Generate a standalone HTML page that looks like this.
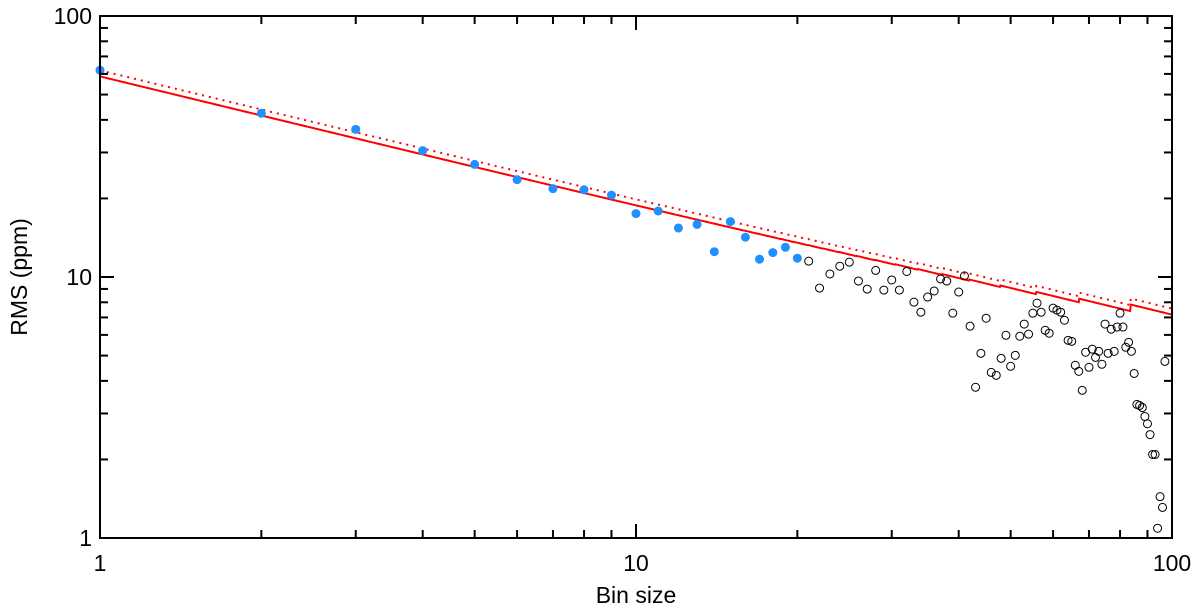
<!DOCTYPE html>
<html><head><meta charset="utf-8"><style>
html,body{margin:0;padding:0;background:#fff;}
svg text{font-family:"Liberation Sans","DejaVu Sans",sans-serif;}
</style></head><body>
<svg id="chart" width="1200" height="609" viewBox="0 0 1200 609" xmlns="http://www.w3.org/2000/svg">
<g id="grid"></g>
</svg>
<script>
const binsIn = [1,2,3,4,5,6,7,8,9,10,11,12,13,14,15,16,17,18,19,20];
const rmsIn = [62,42.4,36.8,30.5,27.0,23.6,21.8,21.6,20.6,17.5,17.9,15.4,15.9,12.5,16.3,14.2,11.7,12.4,13.0,11.8];
const rmsOut = [11.5,9.07,10.27,11.0,11.4,9.65,8.99,10.6,8.91,9.74,8.91,10.5,8.01,7.33,8.38,8.84,9.83,9.65,7.27,8.76,10.1,6.48,3.78,5.10,6.95,4.31,4.20,4.88,5.98,4.55,5.01,5.93,6.6,6.04,7.27,7.94,7.33,6.25,6.09,7.6,7.47,7.33,6.83,5.72,5.67,4.59,4.35,3.68,5.15,4.51,5.29,4.92,5.19,4.63,6.6,5.10,6.31,5.19,6.43,7.27,6.43,5.38,5.62,5.19,4.27,3.25,3.22,3.16,2.92,2.74,2.49,2.09,2.09,1.09,1.44,1.31,4.75];
const outStart = [21];
const sigmaSolid = [58.6];
const sigmaDotted = [61.8];
const nPoints = [335];
const xTickLabels = ["1","10","100"];
const yTickLabels = ["1","10","100"];

const L=100,R=1172,T=16,B=538;
const NS="http://www.w3.org/2000/svg";
const svg=document.getElementById('chart');
function xs(n){return L+(R-L)*Math.log10(n)/2;}
function ys(v){return B-(B-T)*Math.log10(v)/2;}
function mk(tag,attrs,parent){const e=document.createElementNS(NS,tag);for(const k in attrs)e.setAttribute(k,attrs[k]);(parent||svg).appendChild(e);return e;}

// expected curves
function curve(sig){
  let d="";
  const N=nPoints[0];
  for(let i=0;i<=2000;i++){
    const n=Math.pow(10,2*i/2000);
    const M=Math.floor(N/n);
    const v=sig/Math.sqrt(n)*Math.sqrt(M/(M-1));
    d+=(i?"L":"M")+xs(n).toFixed(2)+","+ys(v).toFixed(2);
  }
  return d;
}
const clip=mk('clipPath',{id:'cp'});
mk('rect',{x:L,y:T,width:R-L,height:B-T},clip);
const dl=mk('path',{d:curve(sigmaDotted[0]),fill:'none',stroke:'#ff0000','stroke-width':2,'stroke-dasharray':'2,5','clip-path':'url(#cp)'});


const sl=mk('path',{d:curve(sigmaSolid[0]),fill:'none',stroke:'#ff0000','stroke-width':2,'clip-path':'url(#cp)'});



// points
binsIn.forEach((n,i)=>{
  const c=mk('circle',{cx:xs(n),cy:ys(rmsIn[i]),r:4.5,fill:'#1e90ff'});
  
  
});
rmsOut.forEach((v,i)=>{
  const c=mk('circle',{cx:xs(outStart[0]+i),cy:ys(v),r:4,fill:'none',stroke:'#000','stroke-width':1});
  
  
});

// frame
const fr=mk('rect',{x:L,y:T,width:R-L,height:B-T,fill:'none',stroke:'#000','stroke-width':2});


// ticks
for(let dec=0;dec<2;dec++){
  for(let k=1;k<10;k++){
    const val=Math.pow(10,dec)*k;
    const len=k===1?14:8;
    const x=xs(val), y=ys(val);
    if(k!==1){
      mk('line',{x1:x,y1:B,x2:x,y2:B-len,stroke:'#000','stroke-width':2});
      mk('line',{x1:x,y1:T,x2:x,y2:T+len,stroke:'#000','stroke-width':2});
      mk('line',{x1:L,y1:y,x2:L+len,y2:y,stroke:'#000','stroke-width':2});
      mk('line',{x1:R,y1:y,x2:R-len,y2:y,stroke:'#000','stroke-width':2});
    }
  }
}
[1,10,100].forEach((val,i)=>{
  const x=xs(val),y=ys(val);
  mk('line',{x1:x,y1:B,x2:x,y2:B-14,stroke:'#000','stroke-width':2});
  mk('line',{x1:x,y1:T,x2:x,y2:T+14,stroke:'#000','stroke-width':2});
  mk('line',{x1:L,y1:y,x2:L+14,y2:y,stroke:'#000','stroke-width':2});
  mk('line',{x1:R,y1:y,x2:R-14,y2:y,stroke:'#000','stroke-width':2});
  const tx=mk('text',{x:x,y:B+33,'text-anchor':'middle','font-size':23});
  tx.textContent=xTickLabels[i];
  
  
  const ty=mk('text',{x:L-8,y:y+8,'text-anchor':'end','font-size':23});
  ty.textContent=yTickLabels[i];
  
  
});
const xt=mk('text',{x:(L+R)/2,y:603,'text-anchor':'middle','font-size':23});
xt.textContent='Bin size';


const yt=mk('text',{x:0,y:0,'text-anchor':'middle','font-size':23,transform:'translate(27,277) rotate(-90)'});
yt.textContent='RMS (ppm)';


</script>
</body></html>
